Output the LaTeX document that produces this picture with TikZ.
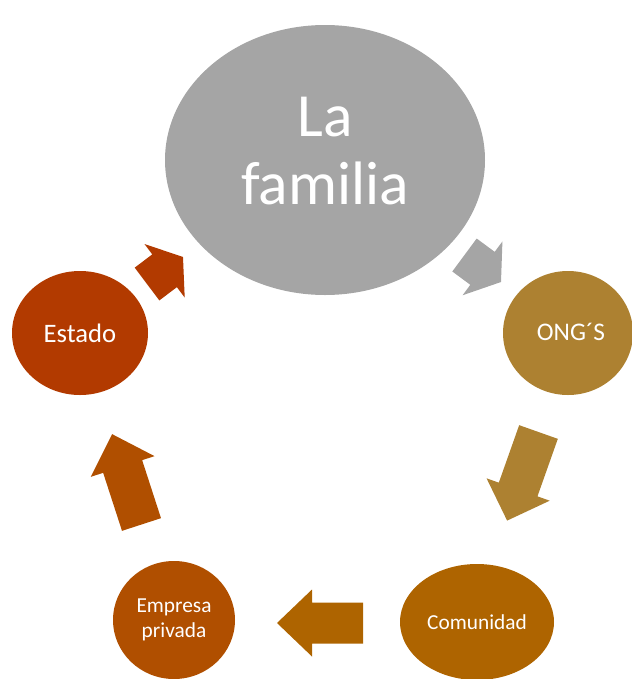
\documentclass[tikz,border=0pt]{standalone}
\usepackage{fontspec}
\setmainfont{Carlito}
\usetikzlibrary{shapes.geometric}
\definecolor{cgray}{HTML}{A5A5A5}
\definecolor{congs}{HTML}{AD8131}
\definecolor{ccomu}{HTML}{AE6400}
\definecolor{cempr}{HTML}{B04F00}
\definecolor{cesta}{HTML}{B23A00}
\newcommand\blockarr[6]{%
  \fill[#6,shift={(#1,#2)},rotate=#3] (0,-20.5) -- ({#4-#5},-20.5) -- ({#4-#5},-33.5) -- (#4,0) -- ({#4-#5},33.5) -- ({#4-#5},20.5) -- (0,20.5) -- cycle;}
\tikzset{
  bubble/.style={ellipse, draw=none, inner sep=0pt, text=white, align=center},
  btext/.style={inner sep=0pt, text=white, align=center},
}
\begin{document}
\begin{tikzpicture}[x=0.75pt,y=0.75pt]
\useasboundingbox (0,0) rectangle (632,-679);
\node[bubble, fill=cgray, minimum width=240pt, minimum height=202.5pt] (fam) at (325,-160) {};
\node[btext, font=\fontsize{46}{51}\selectfont] (famtext) at ([yshift=6.5pt]fam.center) {La\\familia};
\node[bubble, fill=congs, minimum width=97.5pt, minimum height=93pt] (ong) at (568,-333) {};
\node[btext, font=\fontsize{19}{23}\selectfont] (ongtext) at (571,-332) {ONG´S};
\node[bubble, fill=ccomu, minimum width=115.5pt, minimum height=87pt,
      font=\fontsize{16}{19}\selectfont] (com) at (477,-622) {Comunidad};
\node[bubble, fill=cempr, minimum width=91.5pt, minimum height=88.5pt,
      font=\fontsize{16}{19}\selectfont] (emp) at (174,-620) {Empresa\\privada};
\node[bubble, fill=cesta, minimum width=102pt, minimum height=93pt,
      font=\fontsize{20}{24}\selectfont] (est) at (80,-333) {Estado};
% connectors (block arrows)
\blockarr{464.5}{-255}{-36.5}{45.4}{23}{cgray}
\blockarr{538.5}{-432}{-109.5}{94}{33}{congs}
\blockarr{363}{-623}{180}{86}{35}{ccomu}
\blockarr{141.5}{-524.5}{108}{95}{34}{cempr}
\blockarr{147}{-284}{36.9}{45}{23}{cesta}
\end{tikzpicture}
\end{document}
